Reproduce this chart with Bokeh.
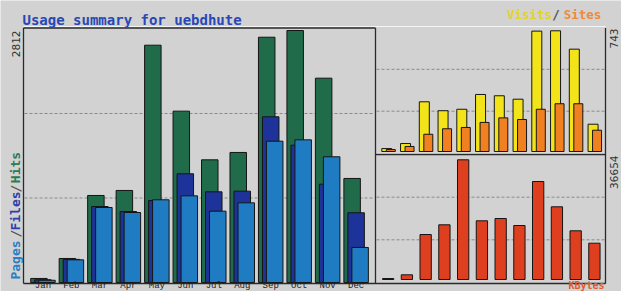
import numpy as np
from bokeh.plotting import figure
from bokeh.models import Range1d
from bokeh.core.properties import value
from bokeh.embed import file_html
from bokeh.resources import INLINE

# ---------------- data ----------------
months = ["Jan", "Feb", "Mar", "Apr", "May", "Jun", "Jul", "Aug", "Sep", "Oct", "Nov", "Dec"]
hits = [45, 268, 971, 1027, 2648, 1912, 1369, 1451, 2737, 2812, 2280, 1161]
files = [30, 258, 848, 792, 915, 1213, 1012, 1019, 1849, 1532, 1097, 778]
pages = [25, 253, 837, 781, 923, 967, 796, 889, 1577, 1592, 1403, 391]
visits = [18, 49, 306, 251, 260, 351, 343, 322, 741, 743, 630, 168]
sites = [12, 31, 106, 140, 148, 179, 207, 197, 260, 294, 294, 131]
kbytes = [300, 1439, 13779, 16749, 36654, 17974, 18678, 16535, 30008, 22261, 14912, 11115]
title_text = "Usage summary for uebdhute"

# ---------------- styles ----------------
BG = "#d2d2d2"
C_HITS, C_FILES, C_PAGES = "#1f6b4a", "#1e3399", "#1f7cc2"
C_VISITS, C_SITES, C_KB = "#f2e418", "#f08020", "#dd3f1f"
EDGE = "#151515"
MONO = value("DejaVu Sans Mono")

W, H = 621, 291
p = figure(width=W, height=H, output_backend="svg", toolbar_location=None,
           x_range=Range1d(8, 8 + W), y_range=Range1d(8 + H, 8),
           x_axis_type=None, y_axis_type=None, min_border=0,
           background_fill_color=BG, border_fill_color=BG,
           outline_line_color=None)

idx = np.arange(len(months))

# main panel scales (months -> x, hits -> y)
PX_M, X0_M = 28.47, 38.2
BASE_M, TOP_M = 290.0, 38.0
ky_m = (BASE_M - TOP_M) / max(hits)
p.extra_x_ranges["mx"] = Range1d((8 - X0_M) / PX_M, (8 + W - X0_M) / PX_M)
p.extra_y_ranges["my"] = Range1d((BASE_M - (8 + H)) / ky_m, (BASE_M - 8) / ky_m)

# right-top panel scales
PX_R, X0_R = 18.75, 389.3
BASE_V, TOP_V = 159.0, 38.3
ky_v = (BASE_V - TOP_V) / max(visits)
p.extra_x_ranges["rx"] = Range1d((8 - X0_R) / PX_R, (8 + W - X0_R) / PX_R)
p.extra_y_ranges["vy"] = Range1d((BASE_V - (8 + H)) / ky_v, (BASE_V - 8) / ky_v)

# right-bottom panel scale
BASE_K, TOP_K = 287.0, 167.3
ky_k = (BASE_K - TOP_K) / max(kbytes)
p.extra_y_ranges["ky"] = Range1d((BASE_K - (8 + H)) / ky_k, (BASE_K - 8) / ky_k)

# ---------------- grid lines (thirds of each panel) ----------------
grid_kw = dict(line_color="#8a8a8a", line_width=1, line_dash="3 2")
for y in (121.0, 205.5):
    p.segment(x0=[32], y0=[y], x1=[382], y1=[y], **grid_kw)
for y in (76.8, 118.7, 204.7, 247.3):
    p.segment(x0=[384], y0=[y], x1=[612], y1=[y], **grid_kw)

# ---------------- bars ----------------
def mbar(vals, off, w, color):
    p.vbar(x=idx + (off + w / 2) / PX_M, width=w / PX_M, top=vals, bottom=0,
           fill_color=color, line_color=EDGE, line_width=1,
           x_range_name="mx", y_range_name="my")

mbar(hits, 0, 16.5, C_HITS)
mbar(files, 4, 16.5, C_FILES)
mbar(pages, 8, 16.5, C_PAGES)

def rbar(vals, off, w, color, yname):
    p.vbar(x=idx + (off + w / 2) / PX_R, width=w / PX_R, top=vals, bottom=0,
           fill_color=color, line_color=EDGE, line_width=1,
           x_range_name="rx", y_range_name=yname)

rbar(visits, 0, 10, C_VISITS, "vy")
rbar(sites, 4.5, 9, C_SITES, "vy")
rbar(kbytes, 0.7, 11.3, C_KB, "ky")

# ---------------- panel borders ----------------
p.segment(x0=[31], y0=[34], x1=[613], y1=[34], line_color="#f4f4f4", line_width=1)
p.segment(x0=[384], y0=[160.8], x1=[613], y1=[160.8], line_color="#f4f4f4", line_width=1)
dark = dict(line_color="#2a2a2a", line_width=1.3)
p.segment(x0=[31, 31, 31, 383, 613, 383],
          y0=[35.5, 35.5, 291, 35.5, 35.5, 162],
          x1=[31, 383, 613, 383, 613, 613],
          y1=[291, 35.5, 291, 291, 291, 162], **dark)

# ---------------- texts ----------------
p.text(x=[30], y=[27], text=[title_text], text_font=MONO, text_font_style="bold",
       text_font_size="14px", text_color="#2848b8", text_baseline="alphabetic",
       text_align="left")

# Visits / Sites legend
p.text(x=[537, 563.5, 590], y=[22, 22, 22], text=["Visits", "/", "Sites"],
       text_color=["#e2d22a", "#505050", "#ee8a3a"], text_font=MONO,
       text_font_style="bold", text_font_size="12.5px",
       text_align="center", text_baseline="middle")

# Pages / Files / Hits vertical legend
p.text(x=[23] * 5, y=[267.5, 241, 218.5, 196, 175],
       text=["Pages", "/", "Files", "/", "Hits"],
       text_color=["#2a80c2", "#505050", "#2a40aa", "#505050", "#2a7a55"],
       angle=np.pi / 2, text_font=MONO, text_font_style="bold",
       text_font_size="13px", text_align="center", text_baseline="middle")

# maxima labels
p.text(x=[23, 621.5, 621.5], y=[38, 36, 163],
       text=[str(max(hits)), str(max(visits)), str(max(kbytes))],
       angle=np.pi / 2, text_font=value("DejaVu Sans"), text_font_size="10.5px",
       text_color="#333333", text_align="right", text_baseline="middle")

# month labels
p.text(x=idx + 12.25 / PX_M, y=[298.5] * len(months), text=months,
       x_range_name="mx", text_font=value("Liberation Mono"),
       text_font_size="9px", text_color="#202020",
       text_align="center", text_baseline="bottom")

p.text(x=[612], y=[298.5], text=["KBytes"], text_font=MONO, text_font_style="bold",
       text_font_size="10px", text_color="#e05a30",
       text_align="right", text_baseline="bottom")

open("out.html", "w").write(file_html(p, INLINE))
